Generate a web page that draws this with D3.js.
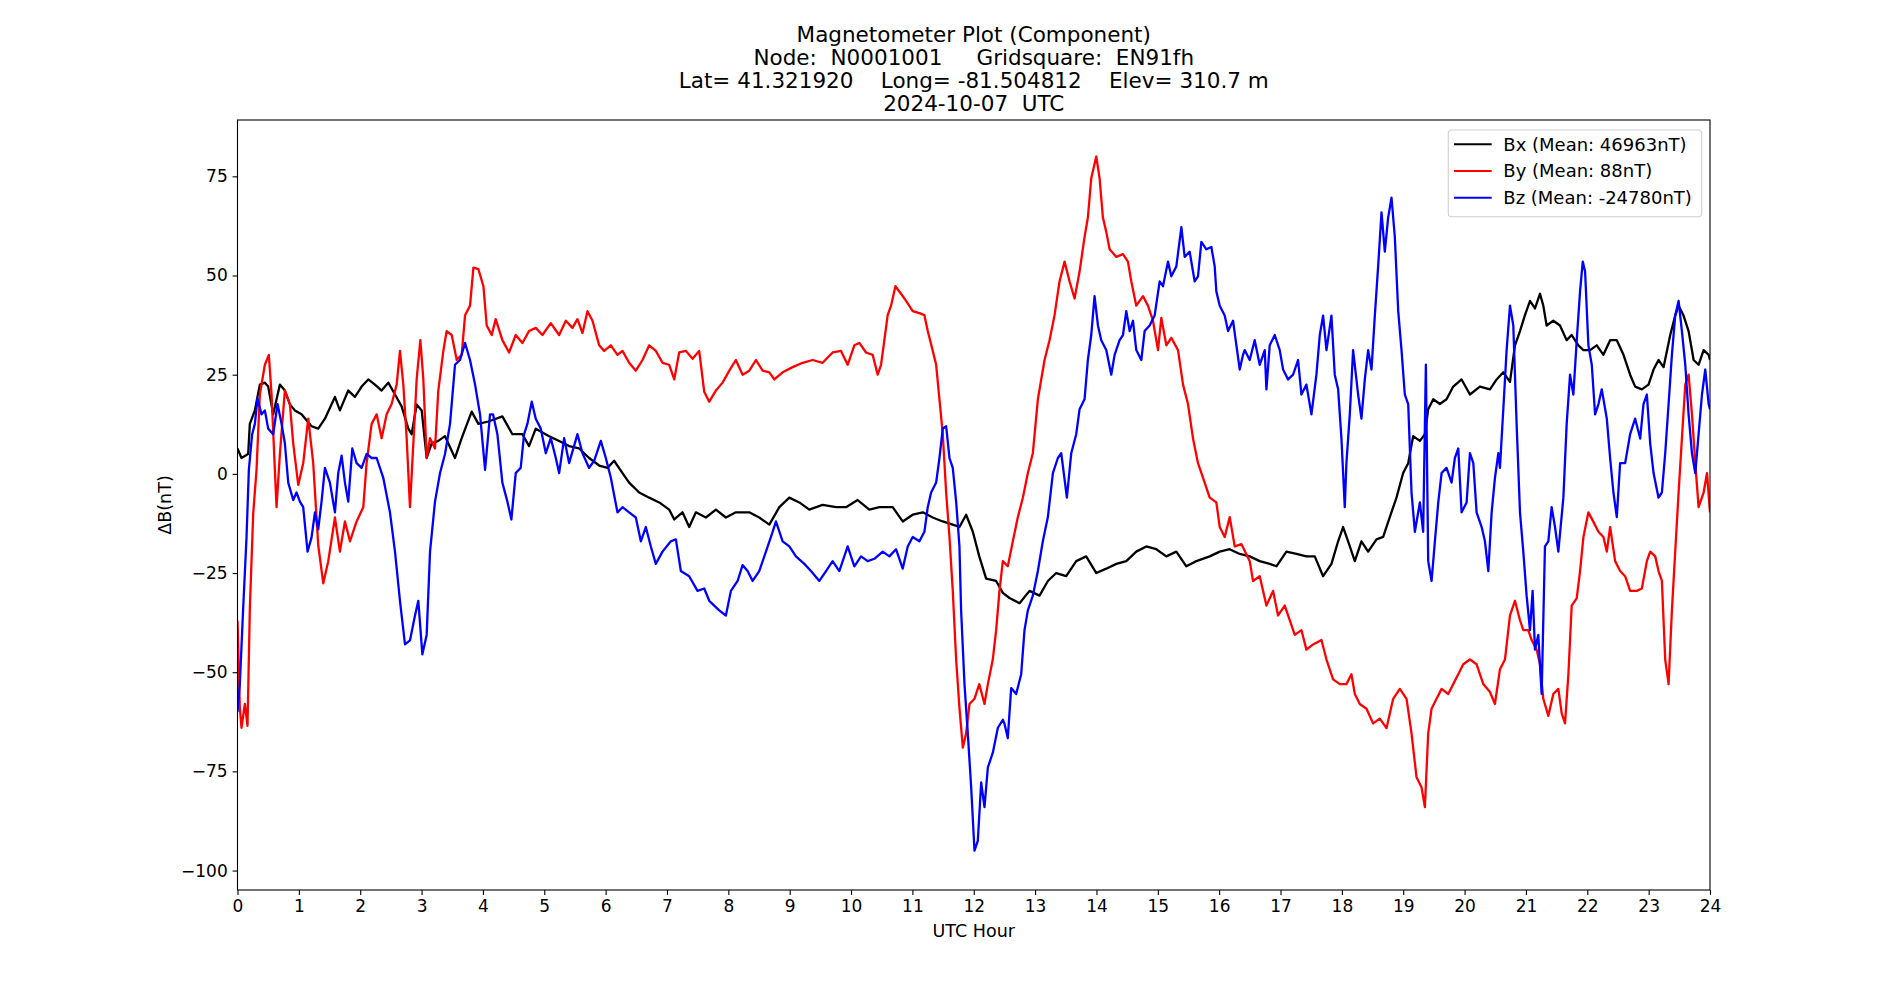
<!DOCTYPE html>
<html>
<head>
<meta charset="utf-8">
<script src="https://cdn.jsdelivr.net/npm/d3@7"></script>
<style>
  html, body { margin: 0; padding: 0; background: #fff; }
  svg { display: block; font-family: "DejaVu Sans", sans-serif; }
</style>
</head>
<body>
<svg id="chart" width="1900" height="1000"></svg>
<script>
// ---------------- DATA ----------------
const titleLines = [
  "Magnetometer Plot (Component)",
  "Node:  N0001001     Gridsquare:  EN91fh",
  "Lat= 41.321920    Long= -81.504812    Elev= 310.7 m",
  "2024-10-07  UTC"
];
const xLabel = "UTC Hour";
const yLabel = "ΔB(nT)";
const xTicks = d3.range(0, 25, 1);
const yTicks = [-100, -75, -50, -25, 0, 25, 50, 75];
const seriesNames = ["Bx (Mean: 46963nT)", "By (Mean: 88nT)", "Bz (Mean: -24780nT)"];
const seriesColors = ["#000000", "#ff0000", "#0000ff"];

// [UTC hour, ΔB nT]
const bx = [[0,6.4],[0.065,4],[0.174,5],[0.201,12.6],[0.283,16],[0.364,22.5],[0.446,23],[0.5,22],[0.582,15],[0.691,22.5],[0.772,21],[0.854,17.5],[0.935,16],[1.044,15],[1.207,12],[1.316,11.4],[1.425,13.9],[1.588,19.4],[1.669,16],[1.805,21],[1.914,19.4],[2.023,22],[2.132,23.8],[2.24,22.5],[2.349,21],[2.458,23],[2.567,20],[2.675,17],[2.784,11.4],[2.839,10],[2.92,17.5],[3.002,16],[3.083,4],[3.165,7.7],[3.273,8.3],[3.382,9.5],[3.545,4],[3.654,9],[3.817,15.7],[3.926,12.6],[4.089,13.2],
[4.317,14.5],[4.48,10],[4.644,10],[4.752,7],[4.861,11.4],[5.079,9.5],[5.242,8.3],[5.405,7],[5.568,6.4],[5.731,4],[5.895,2.1],[6.03,1.5],[6.139,3.3],[6.275,0.2],[6.383,-2.2],[6.547,-4.7],[6.71,-6],[6.873,-7.2],[7.036,-9],[7.118,-11.5],[7.253,-9.7],[7.362,-13.4],[7.471,-9.7],[7.634,-11],[7.797,-9],[7.96,-11],[8.123,-9.7],
[8.341,-9.7],[8.504,-11],[8.668,-12.8],[8.831,-8.4],[8.994,-6],[9.157,-7.2],[9.32,-9],[9.537,-7.8],[9.755,-8.4],[9.918,-8.4],[10.108,-6.6],[10.298,-9],[10.462,-8.4],[10.679,-8.4],[10.842,-12],[11.005,-10.3],[11.169,-9.7],[11.332,-11],[11.495,-12],[11.658,-12.8],[11.767,-13.4],[11.876,-10.3],[11.985,-14.6],[12.09,-20.8],[12.202,-26.4],
[12.365,-27],[12.474,-30],[12.583,-31.3],[12.746,-32.6],[12.909,-29.5],[13.072,-30.7],[13.208,-27],[13.344,-25],[13.507,-25.8],[13.67,-22],[13.833,-20.8],[13.997,-25],[14.16,-23.9],[14.323,-22.7],[14.486,-22],[14.649,-19.6],[14.812,-18.3],[14.975,-19],[15.139,-20.8],[15.302,-19.6],[15.465,-23.3],[15.628,-22],[15.846,-20.8],[16.009,-19.6],[16.172,-19],
[16.335,-20.2],[16.498,-20.8],[16.661,-22],[16.824,-22.7],[16.933,-23.3],[17.096,-19.6],[17.259,-20.2],[17.422,-20.8],[17.558,-20.8],[17.694,-25.8],[17.83,-22.7],[17.939,-17],[18.02,-13.4],[18.102,-17],[18.211,-22],[18.319,-17],[18.428,-19.6],[18.564,-16.5],[18.673,-15.9],[18.781,-10.9],[18.89,-6],[18.999,0.2],[19.081,2.7],[19.162,9.5],[19.271,8.3],[19.353,10],[19.407,16.3],[19.489,18.8],[19.598,17.6],[19.706,18.8],[19.815,22],[19.951,23.8],[20.087,20],[20.25,22],[20.414,21.3],
[20.522,23.8],[20.631,25.6],[20.74,23.2],[20.821,32.4],[20.903,36],[20.984,40],[21.066,43.6],[21.147,41.7],[21.229,45.4],[21.283,42.4],[21.337,37.4],[21.446,38.6],[21.555,37.4],[21.664,33.7],[21.746,35],[21.855,32.4],[21.937,31.2],[22.046,31.2],[22.154,32.4],[22.263,30],[22.372,33.7],[22.481,33.7],[22.59,30],[22.698,25],[22.78,22],[22.889,21.3],[22.998,22.5],[23.08,26.3],[23.161,28.7],[23.243,26.9],[23.352,35],[23.433,39.9],[23.488,42.4],[23.569,39.9],[23.651,36],[23.733,28.7],[23.814,27.5],[23.896,31.2],[23.978,30],[24,28.7]];

const by = [[0,-37],[0.038,-59],[0.065,-64],[0.12,-58],[0.163,-63.5],[0.201,-34],[0.256,-10],[0.31,1],[0.364,20],[0.446,27.5],[0.511,30],[0.555,20],[0.636,-8.4],[0.691,5],[0.772,21],[0.854,17.6],[0.908,7.7],[0.99,-2.8],[1.071,2.7],[1.153,13.9],[1.234,2.7],[1.316,-18],[1.398,-27.6],[1.479,-22],[1.588,-11],[1.669,-19.6],[1.751,-12],[1.833,-17],[1.941,-12],[2.05,-8.4],[2.104,2.7],[2.186,12.6],[2.268,15],[2.349,9],[2.431,15],[2.512,17.6],[2.594,22.5],[2.648,31],[2.703,22.5],[2.757,9],[2.811,-8.4],[2.866,7.7],[2.92,23.8],[2.98,33.7],[3.029,23.8],[3.083,4],[3.138,9],[3.219,6.4],[3.273,21],[3.355,31],[3.409,36],[3.491,35],[3.573,28.7],[3.654,30],[3.709,40],[3.79,42.4],[3.845,52],[3.926,51.6],[4.008,47.3],[4.062,37.4],[4.144,35],
[4.208,39],[4.317,33.7],[4.426,30.6],[4.535,35],[4.644,33],[4.752,36],[4.861,36.8],[4.97,35],[5.106,38],[5.242,35],[5.351,38.6],[5.459,36.8],[5.541,39],[5.623,35.5],[5.704,41],[5.786,38.6],[5.895,32.4],[5.976,31],[6.085,32.4],[6.193,30],[6.275,31],[6.383,28],[6.492,26],[6.601,28.7],[6.71,32.4],[6.818,31],[6.927,28],[7.036,27.5],[7.118,23.8],[7.199,30.6],[7.308,31],[7.417,29],[7.525,31],[7.607,20.7],[7.689,18.2],[7.797,21],[7.906,23],[8.015,26],[8.123,28.7],[8.232,25],
[8.341,26],[8.45,28.7],[8.559,26],[8.668,25.6],[8.749,23.8],[8.885,25.6],[9.048,26.9],[9.211,28],[9.374,28.7],[9.537,28],[9.7,30.6],[9.836,31],[9.945,27.5],[10.054,32.4],[10.135,33],[10.244,30.6],[10.353,30],[10.434,25],[10.489,27.5],[10.543,33.7],[10.597,40],[10.652,42.4],[10.723,47.3],[10.815,45.4],[10.897,43.6],[11.005,41],[11.114,40.5],[11.196,40],[11.25,36],[11.332,31],[11.387,27.5],[11.441,18.8],[11.495,10],[11.55,-4.7],[11.604,-15.9],[11.658,-29.5],[11.713,-46.8],[11.767,-59],[11.822,-69],[11.876,-65.4],[11.931,-58],[12.012,-56.7],[12.09,-53],[12.175,-58],[12.23,-53],
[12.31,-46.8],[12.365,-39.4],[12.419,-29.5],[12.474,-22],[12.555,-23.3],[12.637,-17],[12.719,-10.9],[12.8,-6],[12.882,0.2],[12.963,5.2],[13.045,18.8],[13.154,28.7],[13.235,33.7],[13.317,40],[13.398,48.5],[13.48,53.5],[13.562,48.5],[13.643,44.2],[13.725,51],[13.806,59.7],[13.86,64.6],[13.915,74.5],[13.997,80],[14.051,74.5],[14.105,64.6],[14.16,61],[14.214,56.6],[14.323,54.7],[14.432,55.4],[14.513,53.5],[14.568,48.5],[14.649,42.4],[14.758,44.8],[14.839,42.4],[14.921,38.6],[15.003,31.2],[15.057,39.3],[15.139,32.4],[15.22,34.3],[15.329,31.2],[15.411,22.5],[15.492,17.6],[15.574,8.9],[15.655,2.7],[15.737,-1],[15.846,-6],[15.954,-7.2],[16.009,-13.4],[16.09,-15.9],[16.172,-10.9],[16.254,-18.3],[16.362,-17.7],
[16.498,-22],[16.552,-27],[16.661,-25.8],[16.77,-33.2],[16.879,-29.5],[16.96,-35.7],[17.069,-33.2],[17.15,-36.9],[17.232,-40.6],[17.341,-39.4],[17.422,-44.3],[17.531,-43],[17.667,-41.9],[17.749,-46.8],[17.857,-51.8],[17.966,-53],[18.074,-53],[18.156,-50.5],[18.211,-55.5],[18.292,-58],[18.401,-59.2],[18.509,-62.9],[18.618,-61.7],[18.727,-64.1],[18.836,-56.7],[18.945,-54.2],[19.054,-56.7],[19.135,-65.4],[19.217,-76.5],[19.298,-79],[19.353,-84],[19.407,-65.4],[19.462,-59.2],[19.543,-56.7],[19.625,-54.2],[19.734,-55.5],[19.815,-53],[19.897,-50.5],[19.978,-48],[20.087,-46.8],[20.196,-48],[20.305,-53],[20.414,-55],[20.495,-58],
[20.576,-49.3],[20.658,-46.8],[20.74,-35.7],[20.821,-32],[20.903,-36.9],[20.957,-39.4],[21.038,-39.4],[21.093,-41.9],[21.174,-44.3],[21.229,-48],[21.283,-56.7],[21.365,-61],[21.446,-55.5],[21.528,-54.2],[21.583,-60.4],[21.637,-62.9],[21.692,-50.5],[21.746,-33.2],[21.828,-31.3],[21.882,-24.5],[21.937,-15.9],[22.018,-9.7],[22.1,-12.1],[22.182,-14.6],[22.263,-15.9],[22.318,-19.6],[22.372,-13.4],[22.454,-22],[22.535,-24.5],[22.617,-25.8],[22.698,-29.5],[22.807,-29.5],[22.889,-28.9],[22.971,-22],[23.025,-19.6],[23.107,-20.8],[23.161,-24.5],[23.216,-27],[23.27,-46.8],[23.325,-53],[23.379,-34.4],[23.433,-19.6],[23.488,-4.7],[23.542,8.9],[23.597,22.5],[23.651,25],[23.706,15],[23.76,2.7],[23.814,-8.4],[23.896,-4.7],[23.951,0.2],[24,-9.7]];

const bz = [[0,-60],[0.038,-53],[0.092,-34],[0.147,-16],[0.185,1],[0.239,10],[0.283,12.6],[0.326,19],[0.392,15],[0.446,16],[0.5,11.4],[0.582,10],[0.653,17.6],[0.718,12.6],[0.772,7.7],[0.827,-2.2],[0.908,-6.6],[0.962,-4.7],[1.017,-7],[1.071,-8.4],[1.142,-19.6],[1.207,-16],[1.262,-9.7],[1.316,-14],[1.37,-7],[1.425,1.5],[1.506,-2.2],[1.588,-9.7],[1.642,0.2],[1.697,4.6],[1.751,-2.2],[1.805,-7],[1.871,6.4],[1.941,2.7],[2.023,1.5],[2.104,5],[2.186,4],[2.268,4],[2.376,-1],[2.485,-9.7],[2.567,-19.6],[2.648,-32],[2.73,-43],[2.811,-42],[2.893,-35.7],[2.947,-32],[3.013,-45.5],[3.083,-40.6],[3.138,-19.6],[3.219,-7],[3.301,0.2],[3.382,5],[3.464,12.6],[3.545,27.5],[3.627,28.7],[3.709,33],[3.79,28.7],[3.872,22.5],[3.953,15],[4.035,1],[4.116,15],
[4.165,15],[4.236,10],[4.317,-2.2],[4.399,-7],[4.464,-11.5],[4.535,0.2],[4.616,1.5],[4.671,10],[4.725,12.6],[4.796,18.2],[4.861,13.9],[4.943,11.4],[5.025,5.2],[5.106,9],[5.188,4],[5.242,0.2],[5.324,9],[5.405,2.7],[5.541,10],[5.623,5.2],[5.731,1.5],[5.813,3.3],[5.922,8.3],[6.003,4],[6.085,-1],[6.193,-9.7],[6.275,-8.4],[6.383,-9.7],[6.492,-11],[6.574,-17],[6.655,-13.4],[6.737,-18.3],[6.818,-22.7],[6.927,-19.6],[7.063,-17],[7.145,-16.5],[7.226,-24.5],[7.362,-25.8],[7.498,-29.5],[7.607,-28.9],[7.689,-32],[7.851,-34.4],[7.96,-35.7],[8.042,-29.5],[8.151,-27],[8.232,-23],[8.314,-24.5],
[8.396,-27],[8.504,-24.5],[8.613,-19.6],[8.722,-14.6],[8.776,-12],[8.885,-17],[8.994,-18.3],[9.102,-20.8],[9.238,-22.7],[9.347,-24.5],[9.483,-27],[9.592,-24.5],[9.7,-22],[9.809,-24.5],[9.945,-18.3],[10.054,-23.3],[10.163,-20.8],[10.271,-22],[10.38,-21.4],[10.516,-19.6],[10.625,-20.8],[10.733,-19],[10.842,-23.9],[10.924,-18.3],[11.005,-15.9],[11.114,-17],[11.196,-14.6],[11.25,-8.4],[11.305,-4.7],[11.387,-2.2],[11.441,4],[11.495,11.4],[11.55,12],[11.604,4],[11.658,1.5],[11.713,-7],[11.767,-18.3],[11.794,-34.4],[11.849,-53],[11.903,-65.4],[11.958,-79],[12.012,-95],[12.066,-92.5],[12.121,-77.8],[12.175,-84],[12.23,-74],[12.311,-70.3],[12.393,-64],
[12.474,-62],[12.501,-63],[12.555,-66.6],[12.61,-54],[12.691,-55.5],[12.773,-50.5],[12.827,-39.4],[12.882,-34.4],[12.963,-30.7],[13.045,-24.5],[13.126,-17],[13.208,-10.9],[13.29,0.2],[13.371,4],[13.426,5.2],[13.518,-6],[13.589,5.2],[13.67,10],[13.725,16.3],[13.806,18.8],[13.86,28.7],[13.915,35],[13.969,44.8],[14.024,37.4],[14.078,33.7],[14.16,31.2],[14.241,25],[14.296,30],[14.377,33.7],[14.432,35],[14.486,41],[14.541,36],[14.595,38.6],[14.649,31.2],[14.731,28.7],[14.785,36],[14.867,37.4],[14.948,39.9],[15.03,48.5],[15.084,47.3],[15.166,53.5],[15.22,49.8],[15.302,52.3],[15.384,62.2],[15.438,54.7],[15.519,56],[15.601,48.5],[15.655,49.8],[15.71,58.5],[15.791,56.6],[15.873,57.2],[15.927,52.3],[15.954,46],[16.009,42.4],[16.09,39.9],[16.145,36],[16.226,38.6],[16.281,32.4],[16.335,26.3],[16.389,30],
[16.416,31.2],[16.498,28.7],[16.579,33.7],[16.661,27.5],[16.743,31.2],[16.77,21.3],[16.824,32.4],[16.906,35],[16.987,31.2],[17.042,26.3],[17.123,23.8],[17.205,25],[17.286,28.7],[17.341,20],[17.422,22.5],[17.504,15],[17.585,25],[17.64,35],[17.694,39.9],[17.749,31.2],[17.83,39.9],[17.884,25],[17.939,21.3],[17.993,8.9],[18.047,-8.4],[18.074,2.7],[18.129,15],[18.183,31.2],[18.265,20],[18.319,13.9],[18.374,23.8],[18.428,31.2],[18.483,26.3],[18.537,39.9],[18.591,52.3],[18.646,65.9],[18.7,56],[18.754,64.6],[18.809,69.6],[18.863,59.7],[18.918,41.1],[18.972,31.2],[19.026,20],[19.081,17.6],[19.135,-4.7],[19.19,-14.6],[19.271,-7.2],[19.325,-14.6],[19.369,27.5],[19.407,-22],[19.462,-27],[19.516,-17],[19.571,-7.2],[19.625,0.2],[19.706,1.5],[19.788,-2.2],[19.842,4],[19.897,6.4],[19.951,-9.7],[20.033,-7.2],[20.087,5.2],[20.142,2.7],[20.196,-9.7],[20.278,-13.4],[20.332,-17],[20.387,-24.5],[20.441,-9.7],[20.495,-1],[20.55,5.2],
[20.576,1.5],[20.631,16.3],[20.685,31.2],[20.74,42.4],[20.794,37.4],[20.848,12.6],[20.903,-9.7],[20.957,-19.6],[21.011,-30.7],[21.066,-39.4],[21.109,-29.5],[21.147,-44.3],[21.201,-40.6],[21.256,-55.5],[21.31,-18.3],[21.365,-17],[21.419,-8.4],[21.474,-13.4],[21.528,-19.6],[21.61,-6],[21.664,12.6],[21.719,25],[21.773,20],[21.828,33.7],[21.882,46],[21.926,53.5],[21.964,51],[22.018,32.4],[22.073,27.5],[22.127,15],[22.182,17.6],[22.236,21.3],[22.318,13.9],[22.372,4],[22.426,-4.7],[22.481,-10.9],[22.535,2.7],[22.617,2.7],[22.698,10],[22.78,13.9],[22.862,8.9],[22.916,17.6],[22.971,20],[23.025,7.7],[23.08,0.2],[23.161,-6],[23.216,-4.7],[23.27,5.2],[23.325,17.6],[23.379,30],[23.433,39.9],[23.488,43.6],[23.542,36],[23.597,27.5],[23.651,15],[23.706,5.2],[23.76,0.2],[23.814,10],[23.869,20],[23.923,26.3],[23.978,17.6],[24,16.3]];

// ---------------- LAYOUT ----------------
const svg = d3.select("#chart");
const W = 1900, H = 1000;
const m = { left: 237.5, right: 1710, top: 120, bottom: 890 };

const x = d3.scaleLinear().domain([0, 24]).range([m.left, m.right]);
const y = d3.scaleLinear().domain([-104.9, 89.2]).range([m.bottom, m.top]);

svg.append("rect").attr("width", W).attr("height", H).attr("fill", "#fff");

svg.append("defs").append("clipPath").attr("id", "clip")
  .append("rect").attr("x", m.left).attr("y", m.top)
  .attr("width", m.right - m.left).attr("height", m.bottom - m.top);

// Lines
const line = d3.line().x(d => x(d[0])).y(d => y(d[1]));
const plotG = svg.append("g").attr("clip-path", "url(#clip)");
[bx, by, bz].forEach((s, i) => {
  plotG.append("path").datum(s)
    .attr("d", line)
    .attr("fill", "none")
    .attr("stroke", seriesColors[i])
    .attr("stroke-width", 2.3)
    .attr("stroke-linejoin", "round");
});

// Axes
const xAxis = d3.axisBottom(x).tickValues(xTicks).tickFormat(d3.format("d")).tickSize(4.9).tickPadding(4.9);
const yAxis = d3.axisLeft(y).tickValues(yTicks).tickFormat(d => d < 0 ? "\u2212" + Math.abs(d) : String(d)).tickSize(4.9).tickPadding(4.9);

const gx = svg.append("g").attr("transform", `translate(0,${m.bottom})`).call(xAxis);
const gy = svg.append("g").attr("transform", `translate(${m.left},0)`).call(yAxis);
[gx, gy].forEach(g => {
  g.select(".domain").remove();
  g.selectAll(".tick line").attr("stroke", "#000").attr("stroke-width", 1.1);
  g.selectAll(".tick text").attr("fill", "#000")
    .style("font-family", "'DejaVu Sans', sans-serif").style("font-size", "17px");
});

// Frame
svg.append("rect")
  .attr("x", m.left).attr("y", m.top)
  .attr("width", m.right - m.left).attr("height", m.bottom - m.top)
  .attr("fill", "none").attr("stroke", "#000").attr("stroke-width", 1.1);

// Axis labels
svg.append("text")
  .attr("x", (m.left + m.right) / 2).attr("y", 937)
  .attr("text-anchor", "middle")
  .style("font-size", "17.5px").text(xLabel);

svg.append("text")
  .attr("transform", `translate(171,${(m.top + m.bottom) / 2}) rotate(-90)`)
  .attr("text-anchor", "middle")
  .style("font-size", "17.5px").text(yLabel);

// Title
const titleBase = [41.7, 64.8, 87.9, 111];
titleLines.forEach((t, i) => {
  svg.append("text")
    .attr("x", (m.left + m.right) / 2).attr("y", titleBase[i])
    .attr("text-anchor", "middle")
    .style("font-size", "21.5px")
    .style("white-space", "pre")
    .attr("xml:space", "preserve")
    .text(t);
});

// Legend
const lg = svg.append("g");
lg.append("rect")
  .attr("x", 1448.3).attr("y", 130).attr("width", 253.4).attr("height", 86.7)
  .attr("rx", 3.5).attr("ry", 3.5)
  .attr("fill", "#fff").attr("fill-opacity", 0.8)
  .attr("stroke", "#d0d0d0").attr("stroke-width", 1.1);
seriesNames.forEach((n, i) => {
  const yy = 144.3 + i * 26.7;
  lg.append("line").attr("x1", 1454).attr("x2", 1491.7).attr("y1", yy).attr("y2", yy)
    .attr("stroke", seriesColors[i]).attr("stroke-width", 2);
  lg.append("text").attr("x", 1503.3).attr("y", yy).attr("dy", "0.36em")
    .style("font-size", "18px").text(n);
});
</script>
</body>
</html>
